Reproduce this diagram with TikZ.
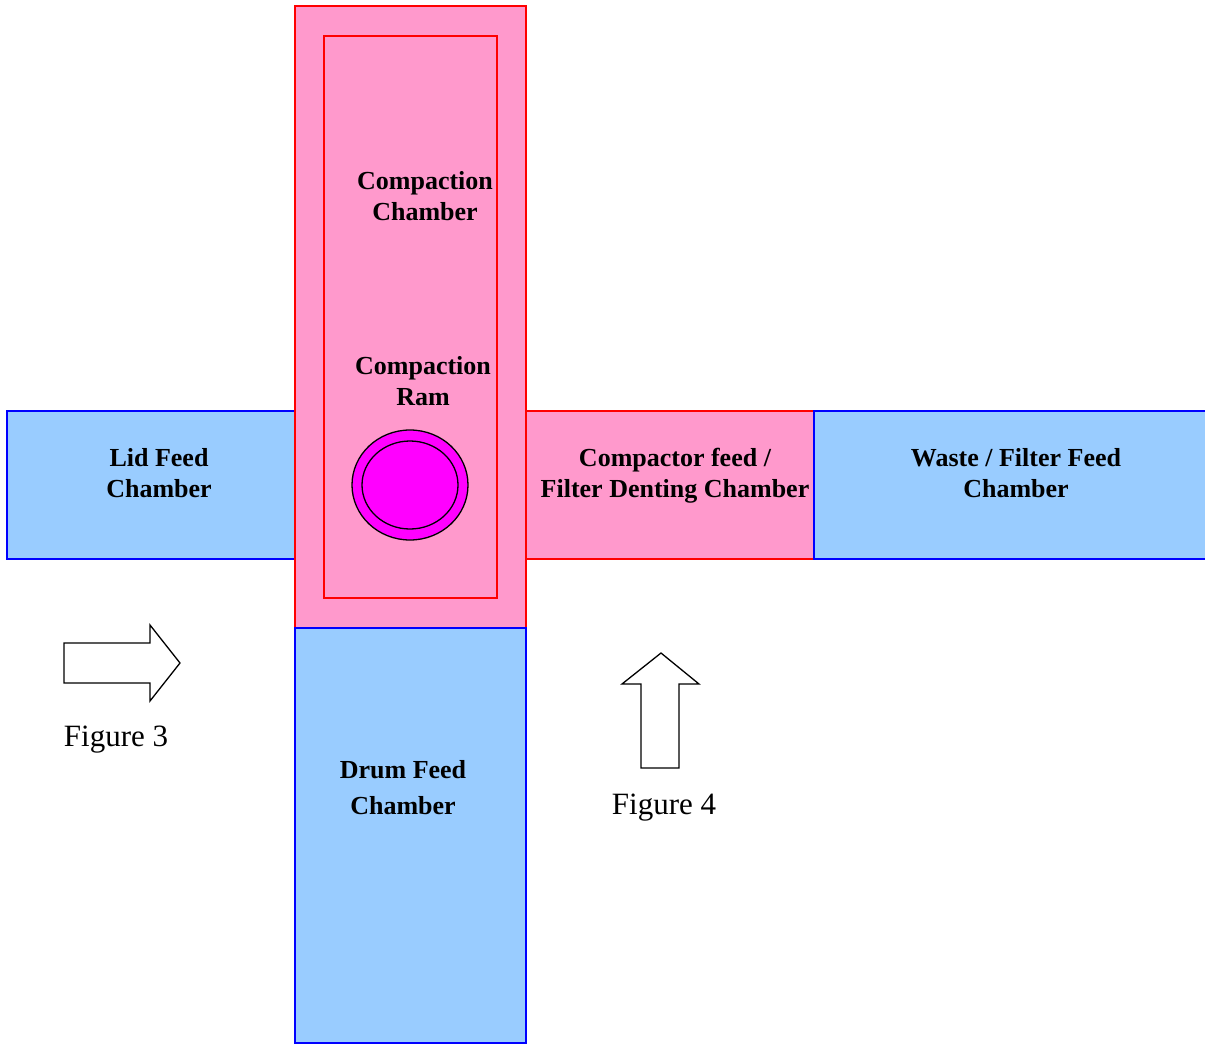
\documentclass[tikz,border=0pt]{standalone}
\usepackage{fontspec}
\setmainfont{Liberation Serif}
\usetikzlibrary{positioning}
\definecolor{roompink}{HTML}{FF99CC}
\definecolor{roomblue}{HTML}{99CCFF}
\definecolor{ramcolor}{HTML}{FF00FF}
\begin{document}
\begin{tikzpicture}[
    x=1pt, y=-1pt,
    pinkroom/.style={fill=roompink, draw=red, line width=1.8pt},
    blueroom/.style={fill=roomblue, draw=blue, line width=1.8pt},
    roomlabel/.style={align=center, inner sep=0pt, font=\bfseries\fontsize{26}{31}\selectfont},
    figlabel/.style={inner sep=0pt, font=\fontsize{31}{36}\selectfont},
    viewarrow/.style={draw=black, fill=white, line width=1.3pt}
]
\useasboundingbox (0,0) rectangle (1205,1044);

% chambers
\draw[blueroom] (7,411) rectangle (296,559);
\draw[pinkroom] (295,6) rectangle (526,628);
\draw[pinkroom] (324,36) rectangle (497,598);
\draw[pinkroom] (526,411) rectangle (814,559);
\draw[blueroom] (814,411) rectangle (1215,559);
\draw[blueroom] (295,628) rectangle (526,1043);

% compaction ram
\draw[fill=ramcolor, line width=1.3pt] (410,485) ellipse [x radius=58, y radius=55];
\draw[fill=ramcolor, line width=1.3pt] (410,485) ellipse [x radius=48, y radius=44];

% labels
\node[roomlabel] (chamber) at (425,196) {Compaction\\Chamber};
\node[roomlabel] (ram) at (423,381) {Compaction\\Ram};
\node[roomlabel] (lidfeed) at (159,473) {Lid Feed\\Chamber};
\node[roomlabel] (compfeed) at (675,476) {Compactor feed /\\Filter Denting Chamber};
\node[roomlabel] (wastefeed) at (1016,473) {Waste / Filter Feed\\Chamber};
\node[roomlabel, font=\bfseries\fontsize{26}{36}\selectfont] (drumfeed) at (403,788) {Drum Feed\\Chamber};

% view arrows
\draw[viewarrow] (64,643) -- (150,643) -- (150,625) -- (180,663) -- (150,701) -- (150,683) -- (64,683) -- cycle;
\draw[viewarrow] (641,768) -- (641,684) -- (622,684) -- (661,653) -- (699,684) -- (679,684) -- (679,768) -- cycle;
\node[figlabel] (fig3) at (116,740) {Figure 3};
\node[figlabel] (fig4) at (664,808) {Figure 4};

\end{tikzpicture}
\end{document}
